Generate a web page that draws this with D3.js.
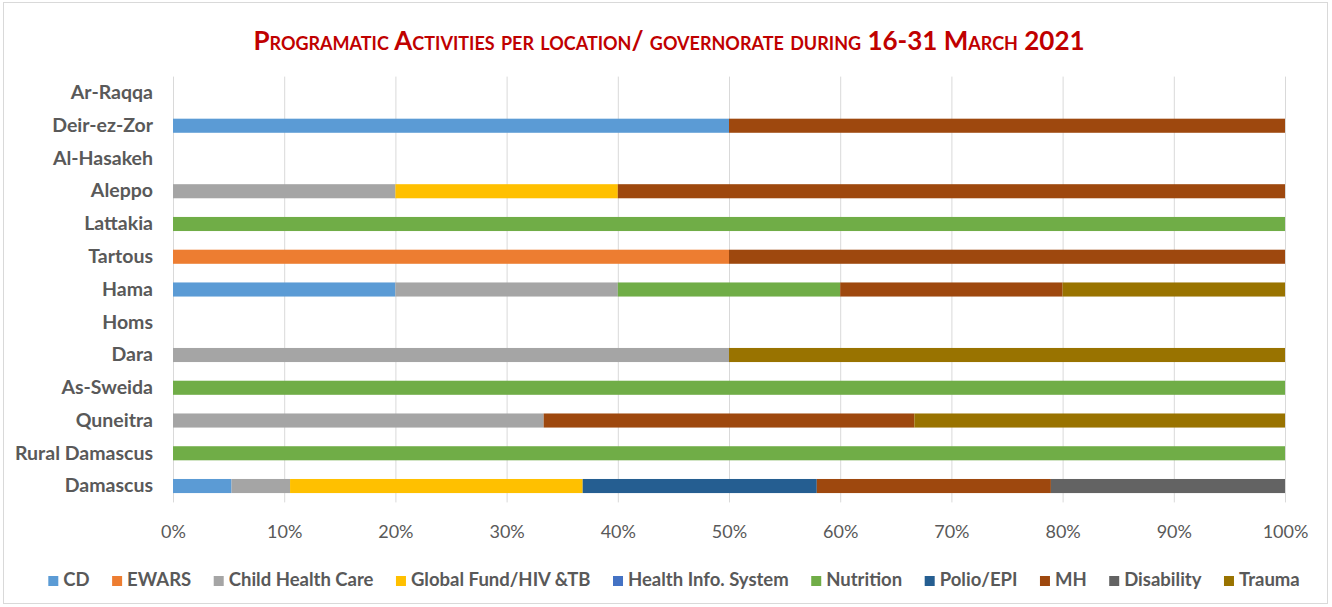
<!DOCTYPE html>
<meta charset="utf-8">
<script src="https://d3js.org/d3.v7.min.js"></script>
<style>
body { margin: 0; background: white; }
text { font-family: Lato, "Open Sans", sans-serif; }
.grid line { stroke: #d9d9d9; }
.grid path { display: none; }
</style>
<body>
<svg width="1332" height="607" id="svg"></svg>
<script>
var locations = ["Ar-Raqqa", "Deir-ez-Zor", "Al-Hasakeh", "Aleppo", "Lattakia", "Tartous", "Hama",
                 "Homs", "Dara", "As-Sweida", "Quneitra", "Rural Damascus", "Damascus"];
var programs = ["CD", "EWARS", "Child Health Care", "Global Fund/HIV &TB", "Health Info. System",
                "Nutrition", "Polio/EPI", "MH", "Disability", "Trauma"];
var colorsList = ["#5b9bd5", "#ed7d31", "#a5a5a5", "#ffc000", "#4472c4",
                  "#70ad47", "#255e91", "#9e480e", "#636363", "#997300"];
// activity counts per location, one array per program (same order as locations)
var cd         = [0, 1, 0, 0, 0, 0, 1, 0, 0, 0, 0, 0, 1];
var ewars      = [0, 0, 0, 0, 0, 1, 0, 0, 0, 0, 0, 0, 0];
var childCare  = [0, 0, 0, 1, 0, 0, 1, 0, 1, 0, 1, 0, 1];
var globalFund = [0, 0, 0, 1, 0, 0, 0, 0, 0, 0, 0, 0, 5];
var his        = [0, 0, 0, 0, 0, 0, 0, 0, 0, 0, 0, 0, 0];
var nutrition  = [0, 0, 0, 0, 1, 0, 1, 0, 0, 1, 0, 1, 0];
var polio      = [0, 0, 0, 0, 0, 0, 0, 0, 0, 0, 0, 0, 4];
var mh         = [0, 1, 0, 3, 0, 1, 1, 0, 0, 0, 1, 0, 4];
var disability = [0, 0, 0, 0, 0, 0, 0, 0, 0, 0, 0, 0, 4];
var trauma     = [0, 0, 0, 0, 0, 0, 1, 0, 1, 0, 1, 0, 0];
var xTicks = [0, 0.1, 0.2, 0.3, 0.4, 0.5, 0.6, 0.7, 0.8, 0.9, 1];

var seriesValues = [cd, ewars, childCare, globalFund, his, nutrition, polio, mh, disability, trauma];

var rows = locations.map(function(loc, i) {
    var row = { loc: loc };
    var total = d3.sum(seriesValues, function(s) { return s[i]; });
    programs.forEach(function(p, j) { row[p] = total ? seriesValues[j][i] / total : 0; });
    return row;
});

var stacked = d3.stack().keys(programs)(rows);

var svg = d3.select("#svg");
svg.append("rect")
    .attr("x", 3.5).attr("y", 2.5).attr("width", 1324).attr("height", 601)
    .attr("fill", "white").attr("stroke", "#d9d9d9");

var plotLeft = 173, plotRight = 1285, plotTop = 76.6, plotBottom = 502.4;

var xScale = d3.scaleLinear().domain([0, 1]).range([plotLeft, plotRight]);
var yScale = d3.scaleBand().domain(locations).range([plotTop, plotBottom]).paddingInner(0.57).paddingOuter(0.285);
var colors = d3.scaleOrdinal().domain(programs).range(colorsList);

svg.append("text")
    .attr("x", 669).attr("y", 50)
    .attr("text-anchor", "middle")
    .attr("fill", "#c00000")
    .style("font-weight", "bold")
    .style("font-size", "26px")
    .style("font-variant", "small-caps")
    .text("Programatic Activities per location/ governorate during 16-31 March 2021");

svg.append("g")
    .attr("class", "grid")
    .attr("transform", "translate(0," + plotBottom + ")")
    .call(d3.axisBottom(xScale).tickValues(xTicks).tickSize(plotTop - plotBottom).tickFormat(""));

var xAxis = svg.append("g")
    .attr("transform", "translate(0," + plotBottom + ")")
    .call(d3.axisBottom(xScale).tickValues(xTicks).tickSize(0).tickPadding(23).tickFormat(d3.format(".0%")));
xAxis.select(".domain").remove();
xAxis.selectAll("text").style("font-size", "18px").attr("fill", "#595959")
    .style("font-family", "Lato, sans-serif");

svg.append("g").selectAll("g")
    .data(stacked)
    .enter().append("g")
    .attr("fill", function(d) { return colors(d.key); })
    .selectAll("rect")
    .data(function(d) { return d; })
    .enter().append("rect")
    .attr("x", function(d) { return xScale(d[0]); })
    .attr("width", function(d) { return xScale(d[1]) - xScale(d[0]); })
    .attr("y", function(d) { return yScale(d.data.loc); })
    .attr("height", yScale.bandwidth());

var yAxis = svg.append("g")
    .attr("transform", "translate(" + plotLeft + ",0)")
    .call(d3.axisLeft(yScale).tickSize(0).tickPadding(20));
yAxis.select(".domain").remove();
yAxis.selectAll("text").style("font-size", "19.5px").style("font-weight", "bold")
    .attr("fill", "#595959").style("font-family", "Lato, sans-serif");

// legend, centered
var legend = svg.append("g");
var items = legend.selectAll("g").data(programs).enter().append("g");
items.append("rect").attr("width", 10).attr("height", 10).attr("y", -10)
    .attr("fill", function(d) { return colors(d); });
items.append("text").attr("x", 15).attr("y", 0)
    .style("font-size", "18.5px").style("font-weight", "bold").attr("fill", "#595959")
    .text(function(d) { return d; });
var pos = 0;
items.each(function() {
    var w = d3.select(this).select("text").node().getComputedTextLength();
    d3.select(this).attr("transform", "translate(" + pos + ",0)");
    pos += 15 + w + 22.5;
});
var totalW = pos - 22.5;
legend.attr("transform", "translate(" + (674 - totalW / 2) + ",586)");
</script>
</body>
